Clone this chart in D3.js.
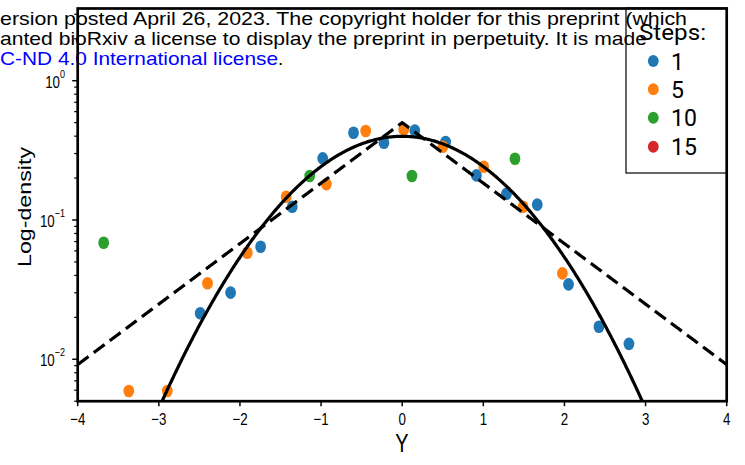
<!DOCTYPE html>
<html><head><meta charset="utf-8">
<script src="https://cdn.jsdelivr.net/npm/d3@7"></script>
<style>body{margin:0;background:#fff}svg{display:block}</style>
</head><body>
<svg id="c" width="745" height="465"></svg>
<script>
// ---- data ----
const xTicks = [-4,-3,-2,-1,0,1,2,3,4];
const xTickLabels = ["\u22124","\u22123","\u22122","\u22121","0","1","2","3","4"];
const yMajor = [0.01,0.1,1];
const yMajorExp = ["\u22122","\u22121","0"];
const legendSteps = ["1","5","10","15"];
const stepColors = ["#1f77b4","#ff7f0e","#2ca02c","#d62728"];

const step1X = [-2.49,-2.115,-1.745,-1.355,-0.98,-0.60,-0.225,0.155,0.535,0.915,1.285,1.665,2.05,2.425,2.795];
const step1Y = [0.0214,0.0301,0.0643,0.1245,0.277,0.423,0.359,0.439,0.363,0.209,0.154,0.129,0.0345,0.0171,0.0129];
const step5X = [-3.37,-2.895,-2.40,-1.91,-1.43,-0.935,-0.45,0.02,0.50,1.005,1.49,1.975];
const step5Y = [0.00592,0.00592,0.0351,0.0582,0.147,0.181,0.435,0.448,0.336,0.241,0.1246,0.0414];
const step10X = [-3.68,-1.14,0.12,1.39];
const step10Y = [0.0687,0.207,0.207,0.275];
const step15X = [];
const step15Y = [];

// reference densities: standard normal (solid) and Laplace b=1 (dashed)
const normalMu = 0, normalSigma = 1;
const laplaceMu = 0, laplaceB = 1;

const overlayLines = [
  {text:"ersion posted April 26, 2023. The copyright holder for this preprint (which", len:687, base:25, color:"#000"},
  {text:"anted bioRxiv a license to display the preprint in perpetuity. It is made", len:647, base:44.5, color:"#000"}
];
const overlayLink = "C-ND 4.0 International license";

// ---- layout ----
const svg = d3.select("#c");
const X0 = 77.7, X1 = 726.7, YT = 8.5, YB = 401.2;
const x = d3.scaleLinear().domain([-4,4]).range([X0,X1]);
const y = d3.scaleLog().domain([0.005,3.3]).range([YB,YT]);

// overlay text (behind plot)
const ff = "'Liberation Sans', Arial, sans-serif";
overlayLines.forEach(l=>{
  svg.append("text").attr("x",0).attr("y",l.base).attr("font-family",ff).attr("font-size",19)
    .attr("textLength",l.len).attr("lengthAdjust","spacingAndGlyphs").attr("fill",l.color).text(l.text);
});
svg.append("text").attr("x",0).attr("y",65).attr("font-family",ff).attr("font-size",19)
  .attr("textLength",278).attr("lengthAdjust","spacingAndGlyphs").attr("fill","#0000ff").text(overlayLink);
svg.append("text").attr("x",278).attr("y",65).attr("font-family",ff).attr("font-size",19).attr("fill","#000").text(".");

// clip
svg.append("defs").append("clipPath").attr("id","clip").append("rect")
  .attr("x",X0).attr("y",YT).attr("width",X1-X0).attr("height",YB-YT);

// points
const series = [[step1X,step1Y],[step5X,step5Y],[step10X,step10Y],[step15X,step15Y]];
const gp = svg.append("g").attr("clip-path","url(#clip)");
series.forEach((s,i)=>{
  gp.selectAll(null).data(s[0].map((v,j)=>[v,s[1][j]])).enter().append("ellipse")
    .attr("cx",d=>x(d[0])).attr("cy",d=>y(d[1])).attr("rx",5.4).attr("ry",6.3)
    .attr("fill",stepColors[i]);
});

// curves
const xs = d3.range(-400,401).map(i=>i/100);
const normal = v => Math.exp(-0.5*((v-normalMu)/normalSigma)**2)/(normalSigma*Math.sqrt(2*Math.PI));
const laplace = v => Math.exp(-Math.abs(v-laplaceMu)/laplaceB)/(2*laplaceB);
const line = d3.line().x(d=>x(d[0])).y(d=>y(Math.max(d[1],1e-6)));
const gc = svg.append("g").attr("clip-path","url(#clip)");
gc.append("path").attr("d",line(xs.map(v=>[v,normal(v)]))).attr("fill","none")
  .attr("stroke","#000").attr("stroke-width",3.2);
gc.append("path").attr("d",line(xs.map(v=>[v,laplace(v)]))).attr("fill","none")
  .attr("stroke","#000").attr("stroke-width",3.2).attr("stroke-dasharray","13.5,6.5");

// x ticks
const ga = svg.append("g");
xTicks.forEach((t,i)=>{
  ga.append("line").attr("x1",x(t)).attr("x2",x(t)).attr("y1",YB).attr("y2",YB+5).attr("stroke","#000").attr("stroke-width",1.5);
  ga.append("text").attr("transform",`translate(${x(t)},425) scale(0.95,1.2)`).attr("text-anchor","middle")
    .attr("font-family",ff).attr("font-size",14).text(xTickLabels[i]);
});
// y ticks
const minors = [];
[-3,-2,-1,0].forEach(k=>{ for(let m=2;m<=9;m++){ const v=m*Math.pow(10,k); if(v>=0.005 && v<=3.3) minors.push(v);} });
minors.forEach(v=>{
  ga.append("line").attr("x1",X0-3.5).attr("x2",X0).attr("y1",y(v)).attr("y2",y(v)).attr("stroke","#000").attr("stroke-width",1.2);
});
yMajor.forEach((v,i)=>{
  const yy = y(v);
  ga.append("line").attr("x1",X0-5.5).attr("x2",X0).attr("y1",yy).attr("y2",yy).attr("stroke","#000").attr("stroke-width",1.5);
  const t = ga.append("text").attr("transform",`translate(65,${yy+7}) scale(0.95,1.2)`).attr("text-anchor","end")
    .attr("font-family",ff).attr("font-size",14);
  t.append("tspan").text("10");
  t.append("tspan").attr("font-size",9.5).attr("dy",-8.5).text(yMajorExp[i]);
});

// spines
svg.append("rect").attr("x",X0).attr("y",YT).attr("width",X1-X0).attr("height",YB-YT)
  .attr("fill","none").attr("stroke","#000").attr("stroke-width",2.7);

// axis labels
svg.append("text").attr("transform","translate(402,452) scale(1,1.25)").attr("text-anchor","middle")
  .attr("font-family",ff).attr("font-size",20).text("Y");
svg.append("text").attr("transform","translate(31,207) rotate(-90)").attr("text-anchor","middle")
  .attr("font-family",ff).attr("font-size",18).attr("textLength",120).attr("lengthAdjust","spacingAndGlyphs").text("Log-density");

// legend
const lg = svg.append("g");
lg.append("rect").attr("x",626).attr("y",8).attr("width",101).attr("height",165)
  .attr("fill","none").attr("stroke","#000").attr("stroke-width",1.2);
const lf = "Roboto, 'Noto Sans', sans-serif";
lg.append("text").attr("x",639).attr("y",40).attr("font-family",lf).attr("font-size",22)
  .attr("textLength",67).attr("lengthAdjust","spacingAndGlyphs").text("Steps:");
const legY = [61,89.3,117.7,146.7];
legendSteps.forEach((s,i)=>{
  lg.append("ellipse").attr("cx",653.3).attr("cy",legY[i]).attr("rx",5.4).attr("ry",6).attr("fill",stepColors[i]);
  lg.append("text").attr("x",671).attr("y",legY[i]+8.5).attr("font-family",lf).attr("font-size",23).text(s);
});
</script>
</body></html>
